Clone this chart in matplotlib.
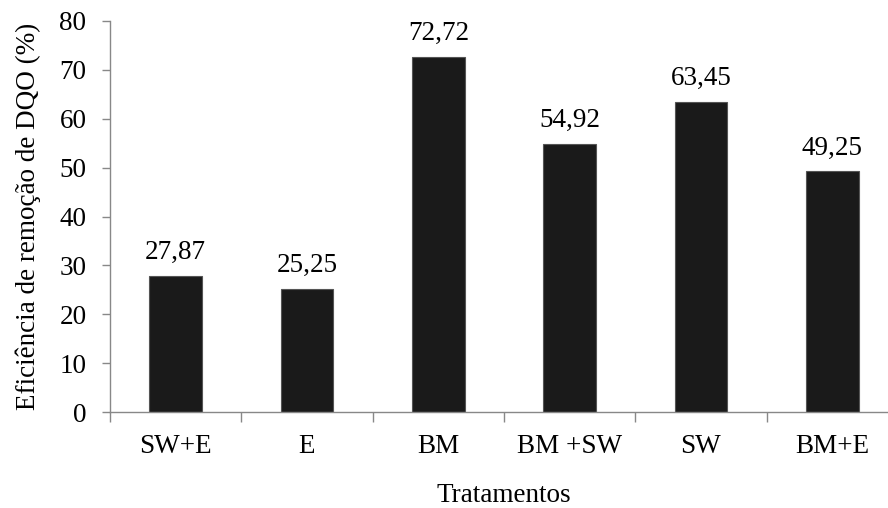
import numpy as np
import matplotlib
matplotlib.use('Agg')
import matplotlib.pyplot as plt

tratamentos = ["SW+E", "E", "BM", "BM +SW", "SW", "BM+E"]
eficiencia = [27.87, 25.25, 72.72, 54.92, 63.45, 49.25]
y_ticks = [0, 10, 20, 30, 40, 50, 60, 70, 80]

plt.rcParams['font.family'] = ['Liberation Serif', 'DejaVu Serif']
fs = 19.5

fig = plt.figure(figsize=(8.88, 5.08), dpi=100)
ax = fig.add_axes([110 / 888, 1 - 412 / 508, 788 / 888, 391 / 508])

x = np.arange(len(tratamentos))
bars = ax.bar(x, eficiencia, width=0.4, color='#1a1a1a', edgecolor='#555555', linewidth=0.8)

for xi, v in zip(x, eficiencia):
    ax.annotate(f"{v:.2f}".replace('.', ','), (xi, v), xytext=(0, 12),
                textcoords='offset points', ha='center', va='baseline', fontsize=fs)

ax.set_xlim(-0.5, len(tratamentos) - 0.5)
ax.set_ylim(0, 80)
ax.set_yticks(y_ticks)
ax.set_xticks(x)
ax.set_xticklabels(tratamentos)
ax.set_xticks(np.arange(-0.5, len(tratamentos)), minor=True)
ax.tick_params(axis='x', which='major', length=0, pad=16, labelsize=fs)
ax.tick_params(axis='x', which='minor', length=7, width=1, color='#888888')
ax.tick_params(axis='y', length=6, width=1, color='#888888', pad=11, labelsize=fs)

for s in ['top', 'right']:
    ax.spines[s].set_visible(False)
for s in ['left', 'bottom']:
    ax.spines[s].set_color('#888888')
    ax.spines[s].set_linewidth(1)

ax.set_ylabel("Eficiência de remoção de DQO (%)", fontsize=fs, labelpad=13)
ax.set_xlabel("Tratamentos", fontsize=fs, labelpad=17)

fig.savefig("out.png", dpi=100)
